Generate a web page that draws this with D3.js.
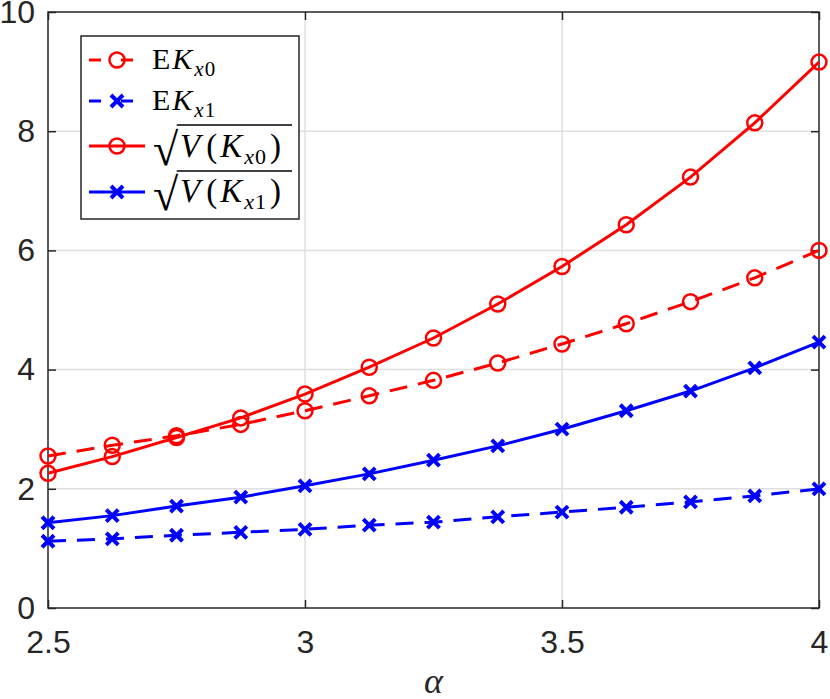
<!DOCTYPE html>
<html lang="en">
<head>
<meta charset="UTF-8">
<title>alpha chart</title>
<script src="https://cdn.jsdelivr.net/npm/d3@7"></script>
<style>
    body { margin: 0; background: #fff; }
    svg { display: block; }
</style>
</head>
<body>
<div id="fig"></div>
<script>
    // data
    const alpha = [2.5, 2.625, 2.75, 2.875, 3.0, 3.125, 3.25, 3.375, 3.5, 3.625, 3.75, 3.875, 4.0];
    const ekx0 = [2.55, 2.73, 2.89, 3.08, 3.31, 3.56, 3.82, 4.11, 4.43, 4.77, 5.14, 5.54, 6.00];
    const ekx1 = [1.12, 1.16, 1.22, 1.27, 1.32, 1.39, 1.44, 1.53, 1.61, 1.69, 1.78, 1.88, 2.00];
    const sdx0 = [2.26, 2.54, 2.86, 3.19, 3.59, 4.04, 4.53, 5.10, 5.73, 6.43, 7.23, 8.14, 9.16];
    const sdx1 = [1.43, 1.55, 1.71, 1.86, 2.05, 2.25, 2.48, 2.72, 3.00, 3.31, 3.64, 4.03, 4.46];
    const xTicks = [2.5, 3, 3.5, 4];
    const yTicks = [0, 2, 4, 6, 8, 10];

    const width = 830, height = 699;
    const margin = {top: 12, right: 11, bottom: 91, left: 48};
    const axisColor = "#262626";

    const svg = d3.select("#fig").append("svg")
        .attr("width", width)
        .attr("height", height);

    const x = d3.scaleLinear().domain([2.5, 4]).range([margin.left, width - margin.right]);
    const y = d3.scaleLinear().domain([0, 10]).range([height - margin.bottom, margin.top]);

    // grid
    const grid = svg.append("g");
    grid.selectAll(".gx").data(xTicks.slice(1, -1)).join("line")
        .attr("x1", d => x(d)).attr("x2", d => x(d))
        .attr("y1", y(0)).attr("y2", y(10))
        .attr("stroke", "#dfdfdf").attr("stroke-width", 1.5);
    grid.selectAll(".gy").data(yTicks.slice(1, -1)).join("line")
        .attr("y1", d => y(d)).attr("y2", d => y(d))
        .attr("x1", x(2.5)).attr("x2", x(4))
        .attr("stroke", "#dfdfdf").attr("stroke-width", 1.5);

    // axes, ticks inward on all sides
    const tl = 8;
    function styleAxis(g) {
        g.select(".domain").remove();
        g.selectAll(".tick line").attr("stroke", axisColor).attr("stroke-width", 1.5);
        g.selectAll(".tick text").attr("fill", axisColor)
            .style("font-family", "'Liberation Sans', Arial, sans-serif")
            .style("font-size", "32px");
    }
    svg.append("g")
        .attr("transform", "translate(0," + y(0) + ")")
        .call(d3.axisBottom(x).tickValues(xTicks).tickFormat(d3.format("")).tickSizeInner(-tl).tickPadding(22))
        .call(styleAxis);
    svg.append("g")
        .attr("transform", "translate(0," + y(10) + ")")
        .call(d3.axisTop(x).tickValues(xTicks).tickFormat("").tickSizeInner(-tl))
        .call(styleAxis);
    svg.append("g")
        .attr("transform", "translate(" + x(2.5) + ",0)")
        .call(d3.axisLeft(y).tickValues(yTicks).tickSizeInner(-tl).tickPadding(13))
        .call(styleAxis);
    svg.append("g")
        .attr("transform", "translate(" + x(4) + ",0)")
        .call(d3.axisRight(y).tickValues(yTicks).tickFormat("").tickSizeInner(-tl))
        .call(styleAxis);

    svg.append("rect")
        .attr("x", x(2.5)).attr("y", y(10))
        .attr("width", x(4) - x(2.5)).attr("height", y(0) - y(10))
        .attr("fill", "none").attr("stroke", axisColor).attr("stroke-width", 1.5);

    // series
    const series = [
        {values: ekx0, color: "#ff0000", dash: "18,11", legDash: "12,20", marker: "o"},
        {values: ekx1, color: "#0000ff", dash: "18,11", legDash: "12,20", marker: "x"},
        {values: sdx0, color: "#ff0000", dash: null, legDash: null, marker: "o"},
        {values: sdx1, color: "#0000ff", dash: null, legDash: null, marker: "x"}
    ];

    const line = d3.line()
        .x((d, i) => x(alpha[i]))
        .y(d => y(d));

    function drawMarker(g, kind, cx, cy, color) {
        if (kind === "o") {
            g.append("circle")
                .attr("cx", cx).attr("cy", cy).attr("r", 7.5)
                .attr("fill", "none").attr("stroke", color).attr("stroke-width", 2.5);
        } else {
            const s = 6;
            g.append("path")
                .attr("d", "M" + (cx - s) + "," + (cy - s) + "L" + (cx + s) + "," + (cy + s) +
                    "M" + (cx - s) + "," + (cy + s) + "L" + (cx + s) + "," + (cy - s))
                .attr("stroke", color).attr("stroke-width", 4).attr("fill", "none");
        }
    }

    series.forEach(s => {
        const g = svg.append("g");
        g.append("path")
            .datum(s.values)
            .attr("d", line)
            .attr("fill", "none")
            .attr("stroke", s.color)
            .attr("stroke-width", 3)
            .attr("stroke-dasharray", s.dash);
        s.values.forEach((v, i) => drawMarker(g, s.marker, x(alpha[i]), y(v), s.color));
    });

    // legend
    const leg = svg.append("g");
    leg.append("rect")
        .attr("x", 81).attr("y", 36).attr("width", 218).attr("height", 183)
        .attr("fill", "#fff").attr("stroke", axisColor).attr("stroke-width", 1.5);

    const serif = "'Liberation Serif', 'Times New Roman', serif";
    const rows = [60, 101, 146, 192];

    function mathText(g, tx, ty, size, subSize, parts) {
        const t = g.append("text")
            .attr("x", tx).attr("y", ty)
            .style("font-family", serif)
            .style("font-size", size + "px")
            .attr("fill", "#000");
        parts.forEach(p => {
            const ts = t.append("tspan").text(p.t);
            if (p.it) ts.style("font-style", "italic");
            if (p.sub) ts.style("font-size", subSize + "px");
            if (p.dy) ts.attr("dy", p.dy);
            if (p.dx) ts.attr("dx", p.dx);
        });
        return t;
    }

    series.forEach((s, i) => {
        const cy = rows[i];
        const g = leg.append("g");
        g.append("line")
            .attr("x1", 89).attr("x2", 145).attr("y1", cy).attr("y2", cy)
            .attr("stroke", s.color).attr("stroke-width", 3)
            .attr("stroke-dasharray", s.legDash);
        drawMarker(g, s.marker, 117, cy, s.color);
    });

    const sub0 = [{t: "x", it: true, sub: true, dy: 7, dx: 2}, {t: "0", sub: true, dx: 1}];
    const sub1 = [{t: "x", it: true, sub: true, dy: 7, dx: 2}, {t: "1", sub: true, dx: 1}];
    mathText(leg, 152, 69, 30, 21, [{t: "E"}, {t: "K", it: true, dx: 2}].concat(sub0));
    mathText(leg, 152, 110, 30, 21, [{t: "E"}, {t: "K", it: true, dx: 2}].concat(sub1));

    // square-root entries: radical glyph, body, vinculum
    [[157, 125, sub0], [202, 171, sub1]].forEach(([base, top, sub]) => {
        const rad = leg.append("text")
            .attr("x", 153).attr("y", base + 8)
            .style("font-family", serif)
            .style("font-size", "46px")
            .text("\u221A");
        const rx = 153 + rad.node().getComputedTextLength();
        mathText(leg, 180, base, 33, 22,
            [{t: "V", it: true}, {t: "(", dx: 6}, {t: "K", it: true, dx: 3}].concat(sub).concat([{t: ")", dy: -7, dx: 4}]));
        leg.append("line")
            .attr("x1", rx - 1.5).attr("x2", 292)
            .attr("y1", top).attr("y2", top)
            .attr("stroke", "#000").attr("stroke-width", 1.5);
    });

    // x label
    svg.append("text")
        .attr("x", (x(2.5) + x(4)) / 2)
        .attr("y", 693)
        .attr("text-anchor", "middle")
        .style("font-family", serif)
        .style("font-style", "italic")
        .style("font-size", "36px")
        .attr("fill", axisColor)
        .text("\u03B1");
</script>
</body>
</html>
